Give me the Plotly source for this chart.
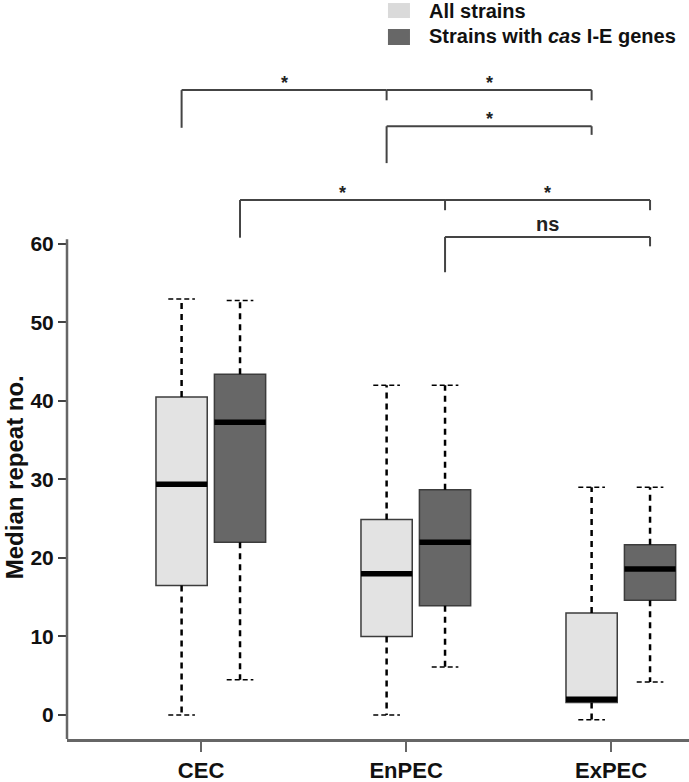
import plotly.graph_objects as go

# ---- data ----
categories = ["CEC", "EnPEC", "ExPEC"]
series_names = ["All strains", "Strains with <i>cas</i> I-E genes"]

all_lower = [0.0, 0.0, -0.6]
all_q1 = [16.5, 10.0, 1.6]
all_median = [29.4, 18.0, 2.0]
all_q3 = [40.5, 24.9, 13.0]
all_upper = [53.0, 42.0, 29.0]

cas_lower = [4.5, 6.1, 4.2]
cas_q1 = [22.0, 13.9, 14.6]
cas_median = [37.3, 22.0, 18.6]
cas_q3 = [43.4, 28.7, 21.7]
cas_upper = [52.8, 42.0, 29.0]

y_ticks = [0, 10, 20, 30, 40, 50, 60]
y_title = "Median repeat no."

# significance brackets: (from group, from series, to group, to series, label)
brackets_a = [("CEC", 0, "EnPEC", 0, "*"), ("EnPEC", 0, "ExPEC", 0, "*")]
brackets_b = [("EnPEC", 0, "ExPEC", 0, "*")]
brackets_c = [("CEC", 1, "EnPEC", 1, "*"), ("EnPEC", 1, "ExPEC", 1, "*")]
brackets_d = [("EnPEC", 1, "ExPEC", 1, "ns")]

# ---- style ----
FONT = "Liberation Sans, Arial, sans-serif"
fill_colors = ["#e3e3e3", "#676767"]
edge = "#3c3c3c"
offsets = [-0.095, 0.19]
box_w = 0.25
cap_half = 0.065

pos = {c: i + 1 for i, c in enumerate(categories)}

fig = go.Figure()

stats = [
    (all_lower, all_q1, all_median, all_q3, all_upper),
    (cas_lower, cas_q1, cas_median, cas_q3, cas_upper),
]

for s, (lo, q1, med, q3, up) in enumerate(stats):
    xs = [pos[c] + offsets[s] for c in categories]
    # boxes
    fig.add_trace(go.Box(
        x=xs, q1=q1, median=med, q3=q3, lowerfence=q1, upperfence=q3,
        width=box_w, whiskerwidth=0,
        fillcolor=fill_colors[s], line=dict(color=edge, width=1.5),
        name=series_names[s], showlegend=False, hoverinfo="skip",
    ))
    # whiskers (dashed)
    wx, wy = [], []
    for i, x in enumerate(xs):
        wx += [x, x, None, x, x, None]
        wy += [q3[i], up[i], None, q1[i], lo[i], None]
    fig.add_trace(go.Scatter(x=wx, y=wy, mode="lines",
                             line=dict(color="black", width=2.5, dash="6px,5px"),
                             showlegend=False, hoverinfo="skip"))
    # caps
    cx, cy = [], []
    for i, x in enumerate(xs):
        cx += [x - cap_half, x + cap_half, None, x - cap_half, x + cap_half, None]
        cy += [up[i], up[i], None, lo[i], lo[i], None]
    fig.add_trace(go.Scatter(x=cx, y=cy, mode="lines",
                             line=dict(color="black", width=1.5, dash="5px,3px"),
                             showlegend=False, hoverinfo="skip"))
    # medians
    mx, my = [], []
    for i, x in enumerate(xs):
        mx += [x - box_w / 2, x + box_w / 2, None]
        my += [med[i], med[i], None]
    fig.add_trace(go.Scatter(x=mx, y=my, mode="lines",
                             line=dict(color="black", width=5.5),
                             showlegend=False, hoverinfo="skip"))

# ---- brackets ----
def xpos(g, s):
    return pos[g] + offsets[s]

annotations = []
def draw_bracket_group(items, y, left_leg, right_leg, label_size, label_gap):
    bx, by = [], []
    first = items[0]
    x0 = xpos(first[0], first[1])
    bx += [x0, x0, None]
    by += [left_leg, y, None]
    for (g0, s0, g1, s1, lab) in items:
        a, b = xpos(g0, s0), xpos(g1, s1)
        bx += [a, b, None, b, b, None]
        by += [y, y, None, y, right_leg, None]
        annotations.append(dict(x=(a + b) / 2, y=y, xref="x", yref="y",
                                text="<b>" + lab + "</b>", showarrow=False,
                                yanchor="bottom", yshift=label_gap,
                                font=dict(family=FONT, size=label_size, color="#222")))
    fig.add_trace(go.Scatter(x=bx, y=by, mode="lines",
                             line=dict(color="#444", width=2),
                             showlegend=False, hoverinfo="skip"))

draw_bracket_group(brackets_a, 79.6, 74.8, 78.3, 18, -5)
draw_bracket_group(brackets_b, 75.0, 70.3, 73.9, 18, -5)
draw_bracket_group(brackets_c, 65.6, 60.8, 64.3, 18, -5)
draw_bracket_group(brackets_d, 60.9, 56.4, 59.7, 20, 0)

# ---- legend (custom) ----
shapes = []
sw = [(0.9959, 0.9756), (0.9608, 0.9391)]
ty = [0.985, 0.951]
for s in range(2):
    shapes.append(dict(type="rect", xref="paper", yref="paper",
                       x0=0.516, x1=0.5514, y0=sw[s][1], y1=sw[s][0],
                       fillcolor=fill_colors[s] if s else "#dadada",
                       line=dict(width=0)))
    annotations.append(dict(x=0.579, y=ty[s], xref="paper", yref="paper",
                            text="<b>" + series_names[s] + "</b>", showarrow=False,
                            xanchor="left", yanchor="middle",
                            font=dict(family=FONT, size=20, color="#111")))

# y-axis title (centred on the 0-60 part of the axis)
annotations.append(dict(x=-0.085, y=30.3, xref="paper", yref="y",
                        text="<b>" + y_title + "</b>", textangle=-90, showarrow=False,
                        xanchor="center", yanchor="middle",
                        font=dict(family=FONT, size=24, color="#111")))

# y axis line only up to ~60
shapes.append(dict(type="line", xref="paper", yref="y", x0=0, x1=0,
                   y0=-3.06, y1=60.6, line=dict(color="#666", width=2.5)))

fig.update_layout(
    width=689, height=782,
    margin=dict(l=67, r=0, t=0, b=43),
    plot_bgcolor="white", paper_bgcolor="white",
    font=dict(family=FONT, color="#111"),
    shapes=shapes, annotations=annotations,
    xaxis=dict(range=[0.346, 3.38], tickvals=[1, 2, 3], ticktext=["<b>%s</b>" % c for c in categories],
               showline=True, linecolor="#666", linewidth=2.5, ticks="outside",
               ticklen=10, tickwidth=2, tickcolor="#666", showgrid=False, zeroline=False,
               tickfont=dict(size=22, family=FONT, color="#111")),
    yaxis=dict(range=[-3.06, 91.08], tickvals=y_ticks,
               ticktext=["<b>%d</b>" % v for v in y_ticks],
               showline=False, ticks="outside", ticklen=8, tickwidth=2, tickcolor="#444",
               showgrid=False, zeroline=False,
               tickfont=dict(size=21, family=FONT, color="#111")),
)

fig.write_html("out.html", config={"displayModeBar": False},
               post_script="document.body.style.margin='0';document.body.style.padding='0';")
